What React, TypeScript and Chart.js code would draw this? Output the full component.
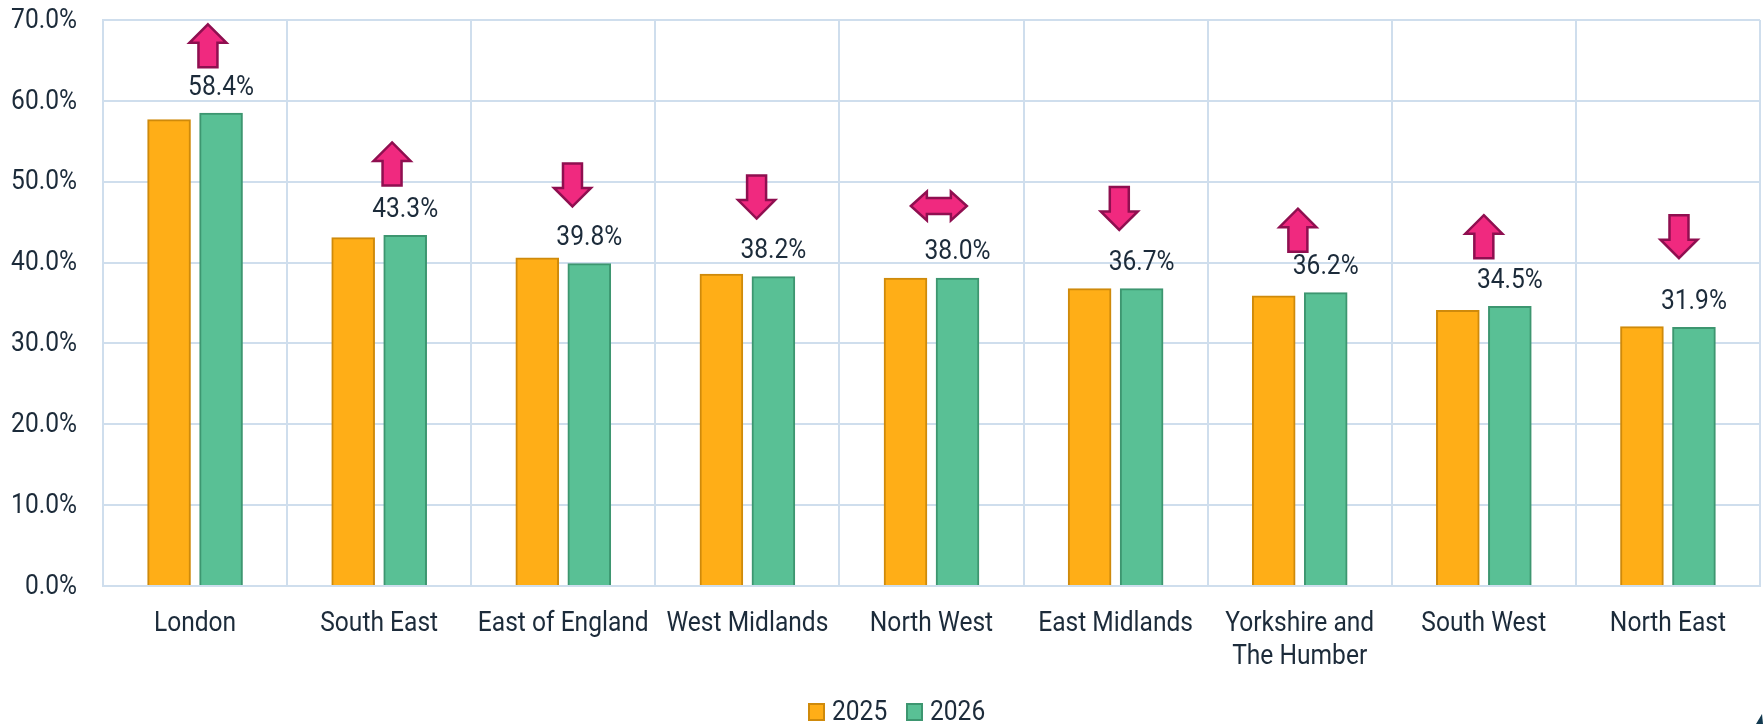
import React, { useEffect, useRef } from "react";
import { Chart, registerables } from "chart.js";

Chart.register(...registerables);

const categories = [
  "London", "South East", "East of England", "West Midlands", "North West",
  "East Midlands", ["Yorkshire and", "The Humber"], "South West", "North East",
];
const values2025 = [57.6, 43.0, 40.5, 38.5, 38.0, 36.7, 35.8, 34.0, 32.0];
const values2026 = [58.4, 43.3, 39.8, 38.2, 38.0, 36.7, 36.2, 34.5, 31.9];
const arrowKinds = ["up", "up", "down", "down", "both", "down", "up", "up", "down"];
const arrowLevels = [66.8, 52.2, 49.6, 48.1, 47.0, 46.7, 44.0, 43.2, 43.2];
const arrowShifts = [0.07, 0.07, 0.05, 0.05, 0.04, 0.02, -0.01, 0, 0.06];

const FONT = "Roboto, sans-serif";
const SIZE = 27;
const NARROW = 0.91;
const INK = "#1c2b3a";
const GRID = "#cfdeed";

const condensed = {
  id: "condensed",
  beforeInit(chart: any) {
    const ctx = chart.ctx;
    const fill = ctx.fillText.bind(ctx);
    const measure = ctx.measureText.bind(ctx);
    ctx.fillText = (text: string, x: number, y: number) => {
      ctx.save();
      ctx.translate(x, y + 1);
      ctx.scale(NARROW, 1);
      fill(text, 0, 0);
      ctx.restore();
    };
    ctx.measureText = (text: string) => ({ width: measure(text).width * NARROW });
  },
};

const annotations = {
  id: "annotations",
  afterDatasetsDraw(chart: any) {
    const { ctx, scales } = chart;
    const meta = chart.getDatasetMeta(1);
    ctx.save();
    ctx.font = `${SIZE}px ${FONT}`;
    ctx.fillStyle = INK;
    ctx.textAlign = "center";
    ctx.textBaseline = "middle";
    meta.data.forEach((bar: any, i: number) => {
      ctx.fillText(values2026[i].toFixed(1) + "%", bar.x, scales.y.getPixelForValue(values2026[i]) - 27);
    });
    ctx.fillStyle = "#f0297f";
    ctx.strokeStyle = "#8f0f50";
    ctx.lineWidth = 2.5;
    ctx.lineJoin = "miter";
    const step = scales.x.getPixelForValue(1) - scales.x.getPixelForValue(0);
    arrowKinds.forEach((kind, i) => {
      const cx = scales.x.getPixelForValue(i) + arrowShifts[i] * step;
      const cy = scales.y.getPixelForValue(arrowLevels[i]);
      let pts: number[][];
      if (kind === "both") {
        pts = [[-28, 0], [-12, -14.5], [-12, -8], [12, -8], [12, -14.5], [28, 0], [12, 14.5], [12, 8], [-12, 8], [-12, 14.5]];
      } else {
        const s = kind === "up" ? 1 : -1;
        pts = [[0, -21.5], [18.5, -3], [9.5, -3], [9.5, 21.5], [-9.5, 21.5], [-9.5, -3], [-18.5, -3]].map(([x, y]) => [x, s * y]);
      }
      ctx.beginPath();
      pts.forEach(([x, y], k) => (k ? ctx.lineTo(cx + x, cy + y) : ctx.moveTo(cx + x, cy + y)));
      ctx.closePath();
      ctx.fill();
      ctx.stroke();
    });

    // legend
    const legendY = chart.height - 12;
    const starts = [808, 906];
    chart.data.datasets.forEach((d: any, i: number) => {
      const x = starts[i];
      ctx.fillStyle = d.backgroundColor;
      ctx.strokeStyle = d.borderColor;
      ctx.lineWidth = 2;
      ctx.fillRect(x, legendY - 9, 17, 18);
      ctx.strokeRect(x + 1, legendY - 8, 15, 16);
      ctx.fillStyle = INK;
      ctx.textAlign = "left";
      ctx.fillText(d.label, x + 24, legendY);
    });

    // sliver of a cropped element in the bottom-right corner
    ctx.fillStyle = "#12394f";
    ctx.beginPath();
    ctx.moveTo(chart.width - 7, chart.height);
    ctx.lineTo(chart.width - 1, chart.height - 10);
    ctx.lineTo(chart.width, chart.height);
    ctx.closePath();
    ctx.fill();
    ctx.restore();
  },
};

export default function App() {
  const ref = useRef<HTMLCanvasElement>(null);
  useEffect(() => {
    document.body.style.margin = "0";
    const chart = new Chart(ref.current as HTMLCanvasElement, {
      type: "bar",
      data: {
        labels: categories as any,
        datasets: [
          { label: "2025", data: values2025, backgroundColor: "#ffae17", borderColor: "#cf8a0b", borderWidth: 2, inflateAmount: 1 },
          { label: "2026", data: values2026, backgroundColor: "#59c095", borderColor: "#3d9670", borderWidth: 2, inflateAmount: 1 },
        ],
      },
      options: {
        responsive: false,
        animation: false,
        devicePixelRatio: 1,
        layout: { padding: { left: 0, right: 3, top: 20, bottom: 0 } },
        datasets: { bar: { categoryPercentage: 0.565, barPercentage: 0.8 } },
        plugins: { tooltip: { enabled: false }, legend: { display: false } },
        scales: {
          x: {
            grid: { color: GRID, lineWidth: 2, drawTicks: false },
            border: { color: GRID, width: 2, z: 1 },
            ticks: { color: INK, font: { family: FONT, size: SIZE, lineHeight: 1.22 }, padding: 21, maxRotation: 0, autoSkip: false },
            afterFit(s: any) { s.height = 138; s.paddingLeft = 0; s.paddingRight = 0; },
          },
          y: {
            min: 0,
            max: 70,
            grid: { color: GRID, lineWidth: 2, drawTicks: false },
            border: { color: GRID, width: 2 },
            ticks: { stepSize: 10, color: INK, font: { family: FONT, size: SIZE }, padding: 26, callback: (v: any) => Number(v).toFixed(1) + "%" },
            afterFit(s: any) { s.width = 103; s.paddingTop = 0; s.paddingBottom = 0; },
          },
        },
      } as any,
      plugins: [condensed, annotations],
    });
    return () => chart.destroy();
  }, []);
  return <canvas ref={ref} width={1763} height={724} style={{ display: "block" }} />;
}
